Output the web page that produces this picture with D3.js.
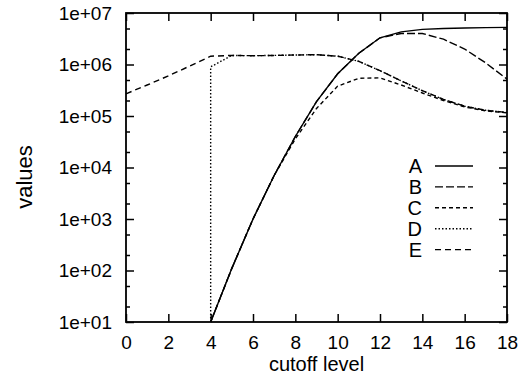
<!DOCTYPE html>
<html>
<head>
<meta charset="utf-8">
<script src="https://cdn.jsdelivr.net/npm/d3@7"></script>
<style>
body { margin: 0; background: #fff; }
text { font-family: "Liberation Sans", Arial, sans-serif; fill: #000; }
</style>
</head>
<body>
<script>
// cutoff levels and series values
levels = [0, 1, 2, 3, 4, 5, 6, 7, 8, 9, 10, 11, 12, 13, 14, 15, 16, 17, 18]
levelsD = [4, 4, 5, 6, 7, 8, 9, 10, 11, 12, 13, 14, 15, 16, 17, 18]

valuesA = [null, null, null, null, 1e1, 1.1e2, 1.0e3, 7.0e3, 4.0e4, 1.9e5, 6.6e5, 1.65e6, 3.3e6, 4.3e6, 4.8e6, 5.0e6, 5.1e6, 5.2e6, 5.25e6]
valuesB = [null, null, null, null, 1e1, 1.1e2, 1.0e3, 7.0e3, 4.0e4, 1.9e5, 6.6e5, 1.65e6, 3.3e6, 4.0e6, 4.0e6, 3.1e6, 2.0e6, 1.07e6, 5.2e5]
valuesC = [null, null, null, null, 1e1, 1.1e2, 1.0e3, 7.0e3, 3.6e4, 1.4e5, 3.8e5, 5.4e5, 5.5e5, 4.0e5, 2.8e5, 2.0e5, 1.5e5, 1.26e5, 1.15e5]
valuesD = [1e1, 9.0e5, 1.5e6, 1.48e6, 1.5e6, 1.53e6, 1.55e6, 1.45e6, 1.15e6, 7.6e5, 4.8e5, 3.1e5, 2.1e5, 1.55e5, 1.29e5, 1.17e5]
valuesE = [2.7e5, 4.0e5, 6.0e5, 9.3e5, 1.45e6, 1.5e6, 1.48e6, 1.5e6, 1.53e6, 1.55e6, 1.45e6, 1.15e6, 7.6e5, 4.8e5, 3.1e5, 2.1e5, 1.55e5, 1.29e5, 1.17e5]

seriesNames = ["A", "B", "C", "D", "E"]
xTicks = [0, 2, 4, 6, 8, 10, 12, 14, 16, 18]
yTicks = [1e1, 1e2, 1e3, 1e4, 1e5, 1e6, 1e7]
yTickLabels = ["1e+01", "1e+02", "1e+03", "1e+04", "1e+05", "1e+06", "1e+07"]

dashes = ["none", "8,3", "4,3", "1.5,2", "6,4"]

w = 530
h = 376
plotLeft = 126
plotRight = 507
plotTop = 13
plotBottom = 322

x = d3.scaleLinear().domain([0, 18]).range([plotLeft, plotRight])
y = d3.scaleLog().domain([1e1, 1e7]).range([plotBottom, plotTop])

minorTicks = []
yTicks.slice(0, -1).forEach(function(d) {
        minorTicks.push(d * 2, d * 5)
})

svg = d3.select("body").append("svg")
        .attr("width", w)
        .attr("height", h)

function styleAxis(g) {
        g.select(".domain").remove()
        g.selectAll("line").attr("stroke", "#000").attr("stroke-width", 1.5)
        g.selectAll("text").attr("font-family", "Liberation Sans, Arial, sans-serif")
                .attr("font-size", 19).attr("fill", "#000")
}

svg.append("g").attr("transform", "translate(0," + plotBottom + ")")
        .call(d3.axisBottom(x).tickValues(xTicks).tickFormat(d3.format("d"))
                .tickSize(-8).tickSizeOuter(0).tickPadding(13.5))
        .call(styleAxis)

svg.append("g").attr("transform", "translate(0," + plotTop + ")")
        .call(d3.axisTop(x).tickValues(xTicks).tickFormat("").tickSize(-8).tickSizeOuter(0))
        .call(styleAxis)

svg.append("g").attr("transform", "translate(" + plotLeft + ",0)")
        .call(d3.axisLeft(y).tickValues(yTicks)
                .tickFormat(function(d, i) { return yTickLabels[i] })
                .tickSize(-8).tickSizeOuter(0).tickPadding(14))
        .call(styleAxis)

svg.append("g").attr("transform", "translate(" + plotLeft + ",0)")
        .call(d3.axisLeft(y).tickValues(minorTicks).tickFormat("").tickSize(-4).tickSizeOuter(0))
        .call(styleAxis)

svg.append("g").attr("transform", "translate(" + plotRight + ",0)")
        .call(d3.axisRight(y).tickValues(yTicks).tickFormat("").tickSize(-8).tickSizeOuter(0))
        .call(styleAxis)

svg.append("g").attr("transform", "translate(" + plotRight + ",0)")
        .call(d3.axisRight(y).tickValues(minorTicks).tickFormat("").tickSize(-4).tickSizeOuter(0))
        .call(styleAxis)

// the curves
allSeries = [
        { name: "A", xs: levels, ys: valuesA },
        { name: "B", xs: levels, ys: valuesB },
        { name: "C", xs: levels, ys: valuesC },
        { name: "D", xs: levelsD, ys: valuesD },
        { name: "E", xs: levels, ys: valuesE }
]

line = d3.line()
        .defined(function(d) { return d[1] != null })
        .x(function(d) { return x(d[0]) })
        .y(function(d) { return y(d[1]) })

svg.append("g").selectAll("path").data(allSeries)
        .enter().append("path")
        .attr("fill", "none")
        .attr("stroke", "#000")
        .attr("stroke-width", 1.4)
        .attr("stroke-dasharray", function(d, i) { return dashes[i] })
        .attr("d", function(d) {
                return line(d.xs.map(function(v, i) { return [v, d.ys[i]] }))
        })

// frame
svg.append("rect")
        .attr("x", plotLeft).attr("y", plotTop)
        .attr("width", plotRight - plotLeft).attr("height", plotBottom - plotTop)
        .attr("fill", "none").attr("stroke", "#000").attr("stroke-width", 1.8)

// legend
legend = svg.append("g").selectAll("g").data(seriesNames)
        .enter().append("g")
        .attr("transform", function(d, i) { return "translate(0," + (173 + i * 20.9) + ")" })

legend.append("text")
        .attr("x", 422)
        .attr("text-anchor", "end")
        .attr("font-size", 20)
        .text(function(d) { return d })

legend.append("line")
        .attr("x1", 435).attr("x2", 473)
        .attr("y1", -7).attr("y2", -7)
        .attr("stroke", "#000")
        .attr("stroke-width", 1.4)
        .attr("stroke-dasharray", function(d, i) { return dashes[i] })

// axis titles
svg.append("text")
        .attr("x", (plotLeft + plotRight) / 2).attr("y", 371)
        .attr("text-anchor", "middle")
        .attr("font-size", 20)
        .text("cutoff level")

svg.append("text")
        .attr("transform", "translate(32,177) rotate(-90)")
        .attr("text-anchor", "middle")
        .attr("font-size", 22)
        .text("values")
</script>
</body>
</html>
